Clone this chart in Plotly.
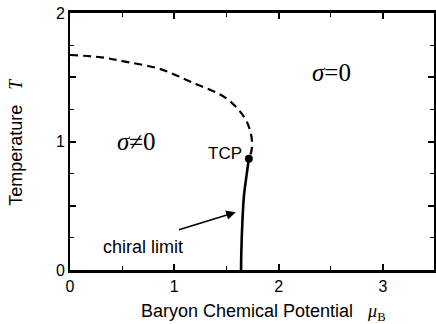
import plotly.graph_objects as go

# Phase boundary in the (mu_B, T) plane
# second-order (dashed) branch, from mu_B = 0 down to the tricritical point
mu_second = [0.0, 0.30, 0.54, 0.86, 1.17, 1.50, 1.67, 1.725, 1.745, 1.74, 1.715]
T_second = [1.673, 1.655, 1.62, 1.565, 1.46, 1.335, 1.19, 1.09, 1.00, 0.93, 0.865]

# first-order (solid) branch, from the tricritical point to T = 0
mu_first = [1.715, 1.69, 1.667, 1.652, 1.643, 1.640]
T_first = [0.865, 0.72, 0.57, 0.36, 0.15, 0.0]

# tricritical point
tcp_mu = [1.715]
tcp_T = [0.865]

x_ticks = [0, 1, 2, 3]
y_ticks = [0, 0.5, 1, 1.5, 2]
y_ticktext = ["0", "", "1", "", "2"]

SANS = "Liberation Sans, Arial, sans-serif"
SERIF = "Liberation Serif, Times New Roman, serif"

fig = go.Figure()
fig.add_trace(go.Scatter(
    x=mu_second, y=T_second, mode="lines",
    line=dict(color="black", width=2.2, dash="8px,5px", shape="spline"),
    hoverinfo="skip"))
fig.add_trace(go.Scatter(
    x=mu_first, y=T_first, mode="lines",
    line=dict(color="black", width=2.6, shape="spline"),
    hoverinfo="skip"))
fig.add_trace(go.Scatter(
    x=tcp_mu, y=tcp_T, mode="markers",
    marker=dict(color="black", size=8),
    hoverinfo="skip"))

annotations = [
    dict(x=1.67, y=0.91, text="TCP", showarrow=False,
         xanchor="right", yanchor="middle",
         font=dict(family=SANS, size=17, color="black")),
    dict(x=0.70, y=0.18, text="chiral limit", showarrow=False,
         xanchor="center", yanchor="middle",
         font=dict(family=SANS, size=18, color="black")),
    dict(x=1.59, y=0.45, ax=1.03, ay=0.31, axref="x", ayref="y",
         xref="x", yref="y", text="", showarrow=True,
         arrowhead=2, arrowsize=1.2, arrowwidth=1.6, arrowcolor="black"),
    dict(x=0.64, y=1.0, text="<i>σ</i>≠0", showarrow=False,
         font=dict(family=SERIF, size=25, color="black")),
    dict(x=2.51, y=1.54, text="<i>σ</i>=0", showarrow=False,
         font=dict(family=SERIF, size=25, color="black")),
    # axis titles
    dict(xref="paper", yref="paper", x=(265 - 70) / 366, y=-42 / 257,
         text="Baryon Chemical Potential   <span style=\"font-family:Liberation Serif\"><i>μ</i><sub>B</sub></span>",
         showarrow=False, xanchor="center", yanchor="middle",
         font=dict(family=SANS, size=18, color="black")),
    dict(xref="paper", yref="paper", x=-55 / 366, y=0.5, textangle=-90,
         text="Temperature   <span style=\"font-family:Liberation Serif\"><i>T</i></span>",
         showarrow=False, xanchor="center", yanchor="middle",
         font=dict(family=SANS, size=18, color="black")),
]

fig.update_layout(
    width=436, height=324,
    margin=dict(l=70, r=0, t=13, b=54),
    paper_bgcolor="white", plot_bgcolor="white",
    showlegend=False,
    annotations=annotations,
    xaxis=dict(
        range=[0, 3.49], tickvals=x_ticks, ticktext=[str(v) for v in x_ticks],
        ticks="inside", ticklen=6, tickwidth=1.6, tickcolor="black",
        minor=dict(tickvals=[0.5, 1.5, 2.5], ticks="inside", ticklen=4,
                   tickwidth=1.2, tickcolor="black"),
        showline=True, linecolor="black", linewidth=2.5, mirror="allticks",
        showgrid=False, zeroline=False,
        tickfont=dict(family=SANS, size=16, color="black"),
    ),
    yaxis=dict(
        range=[0, 2], tickvals=y_ticks, ticktext=y_ticktext,
        ticks="inside", ticklen=6, tickwidth=1.6, tickcolor="black",
        minor=dict(tickvals=[0.25, 0.75, 1.25, 1.75], ticks="inside", ticklen=4,
                   tickwidth=1.2, tickcolor="black"),
        showline=True, linecolor="black", linewidth=1.6, mirror="allticks",
        showgrid=False, zeroline=False,
        tickfont=dict(family=SANS, size=16, color="black"),
    ),
)

fig.write_html("out.html")
